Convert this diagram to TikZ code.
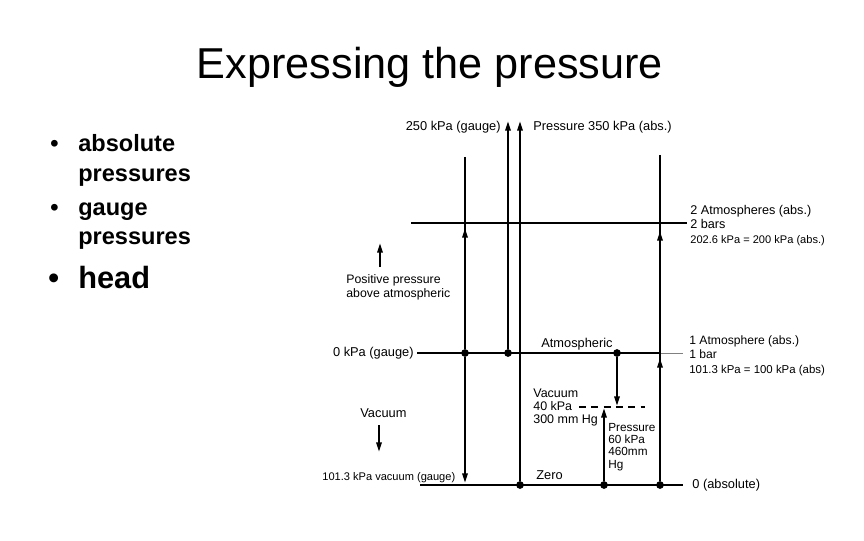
\documentclass[tikz,border=0pt]{standalone}
\usepackage{fontspec}
\setmainfont{Liberation Sans}
\usetikzlibrary{arrows.meta}

\begin{document}
\begin{tikzpicture}[
    x=0.02cm, y=-0.02cm,
    every node/.style={font=\fontsize{7.3}{8}\selectfont, inner sep=0pt},
]

\tikzset{
    line/.style={line width=1pt},
    vline/.style={line width=1.2pt},
    tip/.style={-{Triangle[length=5.5pt, width=3pt]}},
    dot/.style={circle, fill, minimum size=4.4pt, inner sep=0pt},
    lab/.style={anchor=base west, align=left},
    bul/.style={font=\fontsize{13.4}{16}\selectfont\bfseries, anchor=base west},
}
\newcommand{\smalltype}{\fontsize{6.3}{8}\selectfont}

\useasboundingbox (0,0) rectangle (864,540);

% ---------------------------------------------------------------- title
\node[font=\fontsize{24.6}{28}\selectfont, anchor=base] (title) at (430,79)
    {Expressing the pressure};

% ---------------------------------------------------------------- bullets
\node[bul] (dot1) at (50,152) {\textbullet};
\node[bul] (abs1) at (78,152) {absolute};
\node[bul] (abs2) at (78,182) {pressures};
\node[bul] (dot2) at (50,215) {\textbullet};
\node[bul] (gau1) at (78,215) {gauge};
\node[bul] (gau2) at (78,245) {pressures};
\node[bul, font=\fontsize{17.5}{20}\selectfont\bfseries] (dot3) at (48,288) {\textbullet};
\node[bul, font=\fontsize{17.5}{20}\selectfont\bfseries] (head) at (78,288) {head};

% ---------------------------------------------------------------- dots
\node[dot] (atmA) at (465,353) {};
\node[dot] (atmB) at (508,353) {};
\node[dot] (atmV) at (617,353) {};
\node[dot] (zeroC) at (520,485) {};
\node[dot] (zeroP) at (604,485) {};
\node[dot] (zeroD) at (660,485) {};

% ---------------------------------------------------------------- free ends
\coordinate (twoL) at (411,223);  \coordinate (twoR) at (687,223);
\coordinate (atmL) at (417,353);  \coordinate (atmM) at (660,353);
\coordinate (atmR) at (683,353);
\coordinate (zeroL) at (420,485); \coordinate (zeroR) at (683,485);
\coordinate (aTop) at (465,157);  \coordinate (aUp) at (465,228);
\coordinate (aDown) at (465,483);
\coordinate (bTop) at (508,121);  \coordinate (cTop) at (520,121);
\coordinate (dTop) at (660,155);  \coordinate (dUp) at (660,231);
\coordinate (dMid) at (660,358);
\coordinate (vacEnd) at (617,406);
\coordinate (dashL) at (579,407); \coordinate (dashR) at (645,407);
\coordinate (presEnd) at (604,408);
\coordinate (posBot) at (380,267); \coordinate (posTop) at (380,243);
\coordinate (vacTop) at (379,425); \coordinate (vacBot) at (379,452);

% ---------------------------------------------------------------- levels
\draw[line] (twoL) -- (twoR);
\draw[line] (atmL) -- (atmM);
\draw[line width=0.5pt, gray] (atmM) -- (atmR);
\draw[line] (zeroL) -- (zeroR);
\draw[line, dash pattern=on 4pt off 3pt] (dashL) -- (dashR);

% ---------------------------------------------------------------- verticals
\draw[vline] (aTop) -- (atmA);
\draw[vline, tip] (atmA) -- (aUp);
\draw[vline, tip] (atmA) -- (aDown);
\draw[vline, tip] (atmB) -- (bTop);
\draw[vline, tip] (zeroC) -- (cTop);
\draw[vline] (dTop) -- (zeroD);
\draw[vline, tip] (zeroD) -- (dMid);
\draw[vline, tip] (zeroD) -- (dUp);
\draw[vline, tip] (atmV) -- (vacEnd);
\draw[vline, tip] (zeroP) -- (presEnd);
\draw[vline, tip] (posBot) -- (posTop);
\draw[vline, tip] (vacTop) -- (vacBot);

% ---------------------------------------------------------------- labels
% (several-line labels sit on the baseline of their last line)
\node[anchor=base east] (gauge250) at (501,131) {250 kPa (gauge)};
\node[lab] (abs350) at (533,131) {Pressure 350 kPa (abs.)};
\node[lab, font=\fontsize{7.2}{8.2}\selectfont] (twoAtm) at (690,243)
    {2 Atmospheres (abs.)\\2 bars\\{\smalltype 202.6 kPa = 200 kPa (abs.)}};
\node[lab, font=\fontsize{7}{7.9}\selectfont] (positive) at (346,297)
    {Positive pressure\\above atmospheric};
\node[anchor=base east] (gauge0) at (414,356) {0 kPa (gauge)};
\node[lab] (atmos) at (541,347) {Atmospheric};
\node[lab, font=\fontsize{6.9}{8.2}\selectfont] (oneAtm) at (689,373)
    {1 Atmosphere (abs.)\\1 bar\\{\fontsize{6.5}{8}\selectfont 101.3 kPa = 100 kPa (abs)}};
\node[lab, font=\fontsize{7.1}{7.4}\selectfont] (vac40) at (533,423)
    {Vacuum\\40 kPa\\300 mm Hg};
\node[lab, font=\fontsize{6.7}{7}\selectfont] (pres60) at (608,468)
    {Pressure\\60 kPa\\460mm\\Hg};
\node[lab] (vacuum) at (360,417) {Vacuum};
\node[lab, font=\smalltype] (vacGauge) at (322,480) {101.3 kPa vacuum (gauge)};
\node[lab] (zero) at (536,479) {Zero};
\node[lab] (absZero) at (692,488) {0 (absolute)};

\end{tikzpicture}
\end{document}
